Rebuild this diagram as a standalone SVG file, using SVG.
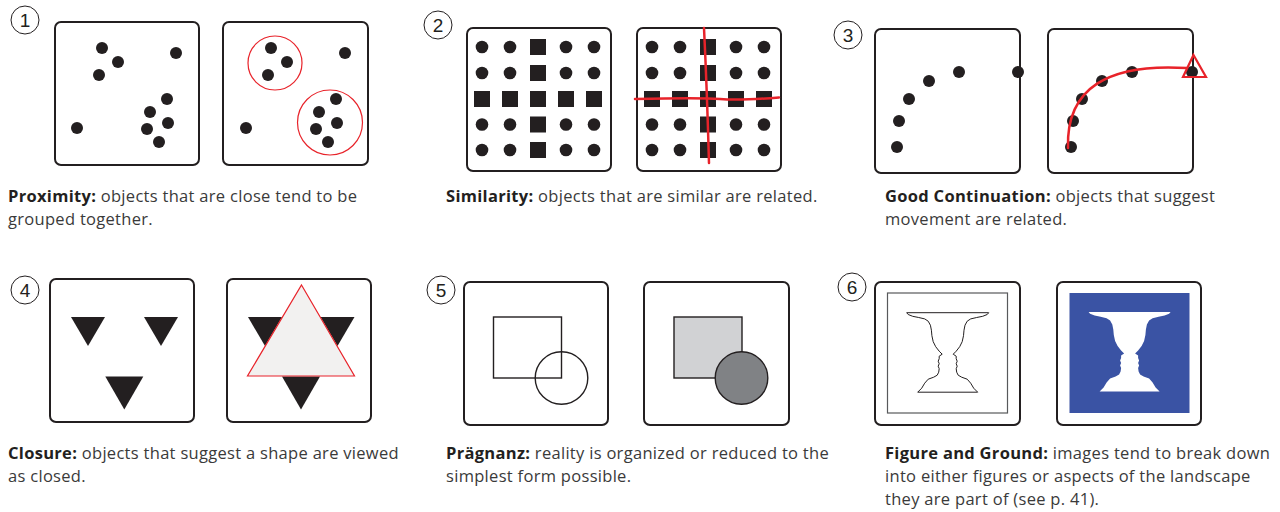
<svg xmlns="http://www.w3.org/2000/svg" width="1280" height="512" viewBox="0 0 1280 512">
  <defs>
    <style>
      .frame { fill: #ffffff; stroke: #231f20; stroke-width: 2; }
      .dot { fill: #231f20; }
      .blk { fill: #231f20; }
      .red { fill: none; stroke: #e8232a; stroke-width: 1.2; }
      .redline { fill: none; stroke: #e8232a; stroke-width: 2.5; stroke-linecap: round; }
      .numc { fill: #ffffff; stroke: #231f20; stroke-width: 1; }
      .num { font-family: "Liberation Sans Narrow", "Liberation Sans", sans-serif; font-size: 19px; fill: #231f20; text-anchor: middle; }
      .cap { font-family: "Open Sans", Lato, sans-serif; font-size: 16.5px; letter-spacing: 0.3px; fill: #3a3a3a; }
      .cap tspan.b { font-weight: 700; fill: #231f20; }
    </style>
    <!-- vase / two-faces profile, axis at x=0, lip at y=0 -->
    <path id="vase" d="M-41,0 L-39.5,1.8 L-35,3.6 L-29,4.8 L-23,6.2 L-19.5,8.5 L-17.3,12.5 L-16.3,17.5 L-15.8,23 L-14.5,29 L-12,34 L-8.5,38.5 L-5.5,41.5 L-8.5,43.5 L-8.5,46 L-9.5,48.5 L-8.5,51 L-9.5,53.5 L-8.5,56 L-9,59.5 L-10.5,62.5 L-14,64.5 L-19.5,66.5 L-23,70.5 L-26,75.5 L-30,79.5 L30,79.5 L26,75.5 L23,70.5 L19.5,66.5 L14,64.5 L10.5,62.5 L9,59.5 L8.5,56 L9.5,53.5 L8.5,51 L9.5,48.5 L8.5,46 L8.5,43.5 L5.5,41.5 L8.5,38.5 L12,34 L14.5,29 L15.8,23 L16.3,17.5 L17.3,12.5 L19.5,8.5 L23,6.2 L29,4.8 L35,3.6 L39.5,1.8 L41,0 Z"/>
    <path id="tri" d="M0,0 L34,0 L17,29 Z"/>
    <path id="tri3" d="M0,0 L38,0 L19,33 Z"/>
  </defs>

  <!-- 1 Proximity -->
  <g id="proximity">
    <circle class="numc" cx="25" cy="20" r="14"/>
    <text class="num" x="25" y="27">1</text>
    <rect class="frame" x="55" y="22" width="144" height="143" rx="6"/>
    <g class="dot">
      <circle cx="102" cy="48" r="6"/><circle cx="118" cy="62" r="6"/><circle cx="99" cy="75" r="6"/>
      <circle cx="176" cy="53" r="6"/><circle cx="77" cy="128" r="6"/>
      <circle cx="167" cy="99" r="6"/><circle cx="150" cy="112" r="6"/><circle cx="168" cy="123" r="6"/>
      <circle cx="147" cy="129" r="6"/><circle cx="159" cy="142" r="6"/>
    </g>
    <rect class="frame" x="223" y="22" width="145" height="143" rx="6"/>
    <g class="dot">
      <circle cx="271" cy="48" r="6"/><circle cx="287" cy="62" r="6"/><circle cx="268" cy="75" r="6"/>
      <circle cx="345" cy="53" r="6"/><circle cx="246" cy="128" r="6"/>
      <circle cx="336" cy="99" r="6"/><circle cx="319" cy="112" r="6"/><circle cx="337" cy="123" r="6"/>
      <circle cx="316" cy="129" r="6"/><circle cx="328" cy="142" r="6"/>
    </g>
    <circle class="red" cx="275" cy="63" r="27"/>
    <circle class="red" cx="330" cy="122.5" r="32.5"/>
    <text class="cap" x="8" y="202"><tspan class="b">Proximity:</tspan> objects that are close tend to be</text>
    <text class="cap" x="8" y="225">grouped together.</text>
  </g>

  <!-- 2 Similarity -->
  <g id="similarity">
    <circle class="numc" cx="438" cy="25" r="14"/>
    <text class="num" x="438" y="32">2</text>
    <rect class="frame" x="467" y="28" width="144" height="143" rx="6"/>
    <g class="blk">
      <circle cx="482" cy="47" r="6.3"/><circle cx="510" cy="47" r="6.3"/><rect x="530" y="39" width="16" height="16"/><circle cx="566" cy="47" r="6.3"/><circle cx="594" cy="47" r="6.3"/>
      <circle cx="482" cy="73" r="6.3"/><circle cx="510" cy="73" r="6.3"/><rect x="530" y="65" width="16" height="16"/><circle cx="566" cy="73" r="6.3"/><circle cx="594" cy="73" r="6.3"/>
      <rect x="474" y="91" width="16" height="16"/><rect x="502" y="91" width="16" height="16"/><rect x="530" y="91" width="16" height="16"/><rect x="558" y="91" width="16" height="16"/><rect x="586" y="91" width="16" height="16"/>
      <circle cx="482" cy="124.5" r="6.3"/><circle cx="510" cy="124.5" r="6.3"/><rect x="530" y="116.5" width="16" height="16"/><circle cx="566" cy="124.5" r="6.3"/><circle cx="594" cy="124.5" r="6.3"/>
      <circle cx="482" cy="150" r="6.3"/><circle cx="510" cy="150" r="6.3"/><rect x="530" y="142" width="16" height="16"/><circle cx="566" cy="150" r="6.3"/><circle cx="594" cy="150" r="6.3"/>
    </g>
    <rect class="frame" x="637" y="28" width="144" height="143" rx="6"/>
    <g class="blk">
      <circle cx="652" cy="47" r="6.3"/><circle cx="680" cy="47" r="6.3"/><rect x="700" y="39" width="16" height="16"/><circle cx="736" cy="47" r="6.3"/><circle cx="764" cy="47" r="6.3"/>
      <circle cx="652" cy="73" r="6.3"/><circle cx="680" cy="73" r="6.3"/><rect x="700" y="65" width="16" height="16"/><circle cx="736" cy="73" r="6.3"/><circle cx="764" cy="73" r="6.3"/>
      <rect x="644" y="91" width="16" height="16"/><rect x="672" y="91" width="16" height="16"/><rect x="700" y="91" width="16" height="16"/><rect x="728" y="91" width="16" height="16"/><rect x="756" y="91" width="16" height="16"/>
      <circle cx="652" cy="124.5" r="6.3"/><circle cx="680" cy="124.5" r="6.3"/><rect x="700" y="116.5" width="16" height="16"/><circle cx="736" cy="124.5" r="6.3"/><circle cx="764" cy="124.5" r="6.3"/>
      <circle cx="652" cy="150" r="6.3"/><circle cx="680" cy="150" r="6.3"/><rect x="700" y="142" width="16" height="16"/><circle cx="736" cy="150" r="6.3"/><circle cx="764" cy="150" r="6.3"/>
    </g>
    <path class="redline" d="M704,28 Q707,90 709,163"/>
    <path class="redline" d="M635,99 Q700,97.5 720,99 T779,97.5"/>
    <text class="cap" x="446" y="202"><tspan class="b">Similarity:</tspan> objects that are similar are related.</text>
  </g>

  <!-- 3 Good Continuation -->
  <g id="continuation">
    <circle class="numc" cx="848" cy="35" r="14"/>
    <text class="num" x="848" y="42">3</text>
    <rect class="frame" x="875" y="29" width="145" height="144" rx="6"/>
    <g class="dot">
      <circle cx="897" cy="147" r="6"/><circle cx="899" cy="121" r="6"/><circle cx="909" cy="99" r="6"/>
      <circle cx="929" cy="81" r="6"/><circle cx="959" cy="72" r="6"/><circle cx="1018" cy="72" r="6"/>
    </g>
    <rect class="frame" x="1048" y="29" width="145" height="144" rx="6"/>
    <g class="dot">
      <circle cx="1071" cy="147" r="6"/><circle cx="1073" cy="121" r="6"/><circle cx="1082" cy="99" r="6"/>
      <circle cx="1102" cy="81" r="6"/><circle cx="1132" cy="72" r="6"/><circle cx="1192" cy="72" r="6"/>
    </g>
    <path class="redline" d="M1068,148 C1066,88 1108,63 1187,68" stroke-width="2.2"/>
    <path fill="none" stroke="#e8232a" stroke-width="2.2" d="M1193.5,55 L1206,77 L1183,77 Z"/>
    <text class="cap" x="885" y="202"><tspan class="b">Good Continuation:</tspan> objects that suggest</text>
    <text class="cap" x="885" y="225">movement are related.</text>
  </g>

  <!-- 4 Closure -->
  <g id="closure">
    <circle class="numc" cx="25" cy="290" r="14"/>
    <text class="num" x="25" y="297">4</text>
    <rect class="frame" x="50" y="279" width="144" height="143" rx="6"/>
    <g class="blk">
      <use href="#tri" x="71" y="317"/>
      <use href="#tri" x="144" y="317"/>
      <use href="#tri3" x="105.3" y="376.5"/>
    </g>
    <rect class="frame" x="227" y="279" width="144" height="143" rx="6"/>
    <g class="blk">
      <use href="#tri" x="248" y="317"/>
      <use href="#tri" x="320.5" y="317"/>
      <use href="#tri3" x="282" y="376.5"/>
    </g>
    <path d="M301.5,285 L354.5,376 L247.5,376 Z" fill="#f2f1f0" stroke="#e8232a" stroke-width="1.2"/>
    <text class="cap" x="8" y="459"><tspan class="b">Closure:</tspan> objects that suggest a shape are viewed</text>
    <text class="cap" x="8" y="482">as closed.</text>
  </g>

  <!-- 5 Prägnanz -->
  <g id="praegnanz">
    <circle class="numc" cx="441" cy="290" r="14"/>
    <text class="num" x="441" y="297">5</text>
    <rect class="frame" x="464" y="282" width="144" height="143" rx="6"/>
    <rect x="493.5" y="317" width="68" height="61" fill="none" stroke="#231f20" stroke-width="1.4"/>
    <circle cx="561.5" cy="378" r="26.3" fill="none" stroke="#231f20" stroke-width="1.4"/>
    <rect class="frame" x="644" y="282" width="145" height="143" rx="6"/>
    <rect x="674" y="317" width="68" height="61" fill="#d1d2d4" stroke="#231f20" stroke-width="1.4"/>
    <circle cx="741.5" cy="378" r="26.3" fill="#808285" stroke="#231f20" stroke-width="1.4"/>
    <text class="cap" x="446" y="459"><tspan class="b">Prägnanz:</tspan> reality is organized or reduced to the</text>
    <text class="cap" x="446" y="482">simplest form possible.</text>
  </g>

  <!-- 6 Figure and Ground -->
  <g id="figure-ground">
    <circle class="numc" cx="852" cy="287" r="14"/>
    <text class="num" x="852" y="294">6</text>
    <rect class="frame" x="875" y="282" width="145" height="143" rx="6"/>
    <rect x="887.5" y="293" width="120" height="120" fill="none" stroke="#58595b" stroke-width="1.2"/>
    <use href="#vase" transform="translate(947.7,312.7)" fill="#ffffff" stroke="#231f20" stroke-width="1" stroke-linejoin="round"/>
    <rect class="frame" x="1057" y="282" width="144" height="143" rx="6"/>
    <rect x="1069.5" y="293" width="120" height="120" fill="#3a53a4"/>
    <use href="#vase" transform="translate(1129.6,312)" fill="#ffffff"/>
    <text class="cap" x="885" y="459"><tspan class="b">Figure and Ground:</tspan> images tend to break down</text>
    <text class="cap" x="885" y="482">into either figures or aspects of the landscape</text>
    <text class="cap" x="885" y="505">they are part of (see p. 41).</text>
  </g>
</svg>
